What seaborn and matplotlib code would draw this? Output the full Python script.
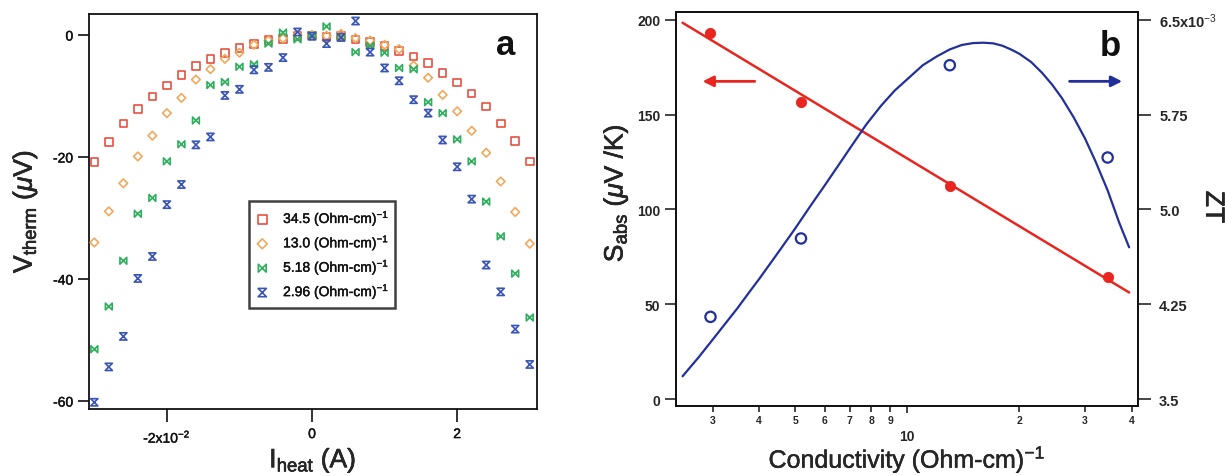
import numpy as np
import pandas as pd
import matplotlib
matplotlib.use("Agg")
import matplotlib.pyplot as plt
import matplotlib.patheffects as pe
from matplotlib.path import Path
from matplotlib.ticker import FixedLocator, FixedFormatter
import seaborn as sns

# ---------------- data: panel a (thermovoltage vs heater current) ----------------
heater_current = [-0.030, -0.028, -0.026, -0.024, -0.022, -0.020, -0.018, -0.016,
                  -0.014, -0.012, -0.010, -0.008, -0.006, -0.004, -0.002, 0.000,
                  0.002, 0.004, 0.006, 0.008, 0.010, 0.012, 0.014, 0.016,
                  0.018, 0.020, 0.022, 0.024, 0.026, 0.028, 0.030]

v_34_5 = [-20.8, -17.5, -14.5, -12.1, -10.1, -8.25, -6.5, -5.1, -3.9, -2.9, -2.1,
          -1.5, -0.8, -0.65, -0.2, -0.1, -0.3, -0.2, -0.7, -1.1, -1.8, -2.6,
          -3.5, -4.6, -6.2, -7.8, -9.6, -11.7, -14.5, -17.4, -20.7]
v_13_0 = [-34.0, -28.9, -24.3, -19.9, -16.5, -12.8, -10.3, -7.3, -5.6, -3.9, -2.9,
          -1.6, -0.9, -0.55, 0.0, 0.0, -0.1, 0.2, -0.5, -0.9, -1.6, -2.3,
          -5.0, -7.0, -9.8, -12.5, -15.7, -19.3, -24.0, -29.0, -34.2]
v_5_18 = [-51.5, -44.5, -37.0, -29.3, -26.7, -20.7, -17.9, -14.0, -8.2, -7.7, -5.2,
          -4.8, -1.4, 0.4, -0.7, 0.0, 1.4, -0.3, -2.8, -1.8, -2.9, -5.4,
          -5.6, -11.0, -12.8, -17.1, -20.7, -27.3, -33.0, -39.1, -46.3]
v_2_96 = [-60.2, -54.4, -49.4, -39.9, -36.3, -27.8, -24.5, -18.0, -16.7, -9.9, -8.9,
          -5.7, -5.3, -3.7, 0.5, -0.2, -1.4, -0.4, 2.3, -2.8, -5.4, -7.5,
          -10.6, -12.8, -17.2, -21.6, -26.9, -37.7, -42.1, -48.2, -54.0]

series_labels = ["34.5 (Ohm-cm)$^{-1}$", "13.0 (Ohm-cm)$^{-1}$",
                 "5.18 (Ohm-cm)$^{-1}$", "2.96 (Ohm-cm)$^{-1}$"]

# ---------------- data: panel b (Seebeck coefficient and ZT vs conductivity) ----------------
conductivity = [2.96, 5.18, 13.0, 34.5]
seebeck = [193.0, 156.5, 112.3, 64.6]
zt = [4.15e-3, 4.77e-3, 6.14e-3, 5.41e-3]

seebeck_fit_cond = [2.49, 39.4]
seebeck_fit = [198.4, 56.2]

zt_fit_cond = [2.49, 2.75, 3.0, 3.25, 3.5, 3.75, 4.0, 4.5, 5.0, 5.5, 6.0, 6.5, 7.0,
               7.75, 8.5, 9.25, 10, 11, 12, 13, 14, 15, 16, 17, 18, 19, 20, 21.5,
               23, 24.5, 26, 28, 30, 32, 34.5, 37, 39.4]
zt_fit = [3.68e-3, 3.83e-3, 3.97e-3, 4.10e-3, 4.22e-3, 4.34e-3, 4.45e-3, 4.66e-3,
          4.85e-3, 5.03e-3, 5.19e-3, 5.34e-3, 5.48e-3, 5.67e-3, 5.82e-3, 5.94e-3,
          6.03e-3, 6.14e-3, 6.21e-3, 6.265e-3, 6.30e-3, 6.315e-3, 6.318e-3,
          6.313e-3, 6.294e-3, 6.264e-3, 6.23e-3, 6.165e-3, 6.08e-3, 5.985e-3,
          5.88e-3, 5.725e-3, 5.56e-3, 5.38e-3, 5.15e-3, 4.90e-3, 4.70e-3]

# ---------------- style ----------------
sns.set_theme(style="ticks")
plt.rcParams["font.family"] = ["Liberation Sans", "DejaVu Sans"]
plt.rcParams["mathtext.fontset"] = "custom"
plt.rcParams["mathtext.rm"] = "Liberation Sans"
plt.rcParams["mathtext.it"] = "Liberation Sans:italic"
plt.rcParams["mathtext.bf"] = "Liberation Sans:bold"
plt.rcParams["axes.linewidth"] = 1.3
plt.rcParams["text.color"] = "#111111"

INK = "#111111"
heavy = [pe.withStroke(linewidth=0.45, foreground=INK)]
light = [pe.withStroke(linewidth=0.3, foreground=INK)]

W, H = 1225, 477
fig = plt.figure(figsize=(W / 100, H / 100), dpi=100)
fig.patch.set_facecolor("white")


def axes_px(left, top, right, bottom):
    return fig.add_axes([left / W, 1 - bottom / H, (right - left) / W, (bottom - top) / H])


# custom open markers
square = Path([(-1, -1), (1, -1), (1, 1), (-1, 1), (-1, -1)],
              [Path.MOVETO, Path.LINETO, Path.LINETO, Path.LINETO, Path.CLOSEPOLY])
diamond = Path([(0, -1), (1, 0), (0, 1), (-1, 0), (0, -1)],
               [Path.MOVETO, Path.LINETO, Path.LINETO, Path.LINETO, Path.CLOSEPOLY])
bowtie = Path([(-1, -1), (-1, 1), (1, -1), (1, 1), (-1, -1)],
              [Path.MOVETO, Path.LINETO, Path.LINETO, Path.LINETO, Path.CLOSEPOLY])
hourglass = Path([(-1, 1), (1, 1), (-1, -1), (1, -1), (-1, 1)],
                 [Path.MOVETO, Path.LINETO, Path.LINETO, Path.LINETO, Path.CLOSEPOLY])

# ---------------- panel a ----------------
ax_a = axes_px(88.5, 15, 537, 410)
styles_a = [(v_34_5, square, "#e8503f", 30),
            (v_13_0, diamond, "#f0a95c", 38),
            (v_5_18, bowtie, "#2fae5e", 24),
            (v_2_96, hourglass, "#3a55b4", 27)]
for label, (vals, mk, col, size) in zip(series_labels, styles_a):
    sns.scatterplot(x=heater_current, y=vals, ax=ax_a, marker=mk, s=size,
                    facecolor="none", edgecolor=col, linewidth=1.2, label=label,
                    zorder=3)

ax_a.set_xlim(-0.0308, 0.0310)
ax_a.set_ylim(-61.3, 3.45)
ax_a.set_xticks([-0.02, 0.0, 0.02])
ax_a.set_xticklabels(["-2x10$^{-2}$", "0", "2"])
ax_a.set_yticks([0, -20, -40, -60])
ax_a.set_yticklabels(["0", "-20", "-40", "-60"])
ax_a.tick_params(axis="y", direction="out", length=8, width=1.2, pad=3, labelsize=10,
                 colors=INK)
ax_a.tick_params(axis="x", direction="out", length=9, width=1.2, pad=4, labelsize=10,
                 colors=INK)
for lab in ax_a.get_xticklabels() + ax_a.get_yticklabels():
    lab.set_path_effects(light)
for sp in ax_a.spines.values():
    sp.set_visible(True)
    sp.set_linewidth(1.3)
    sp.set_color(INK)

ax_a.set_xlabel(r"I$_{\rm heat}$ (A)", fontsize=19)
ax_a.set_ylabel(r"V$_{\rm therm}$ ($\mu$V)", fontsize=19)
for lbl in (ax_a.xaxis.label, ax_a.yaxis.label):
    lbl.set_va("center")
    lbl.set_path_effects(heavy)
ax_a.xaxis.set_label_coords(0.5, -0.13)
ax_a.yaxis.set_label_coords(-0.142, 0.5)

leg = ax_a.legend(loc="upper left", bbox_to_anchor=(0.358, 0.526), frameon=True,
                  fancybox=False, edgecolor=INK, fontsize=10,
                  handlelength=1.0, handletextpad=1.0, borderpad=0.45,
                  labelspacing=0.2, borderaxespad=0.0, markerscale=1.15)
leg.get_frame().set_linewidth(1.8)
for t in leg.get_texts():
    t.set_path_effects(light)

ax_a.text(0.929, 0.924, "a", transform=ax_a.transAxes, fontsize=25,
          fontweight="bold", ha="center", va="center")

# ---------------- panel b ----------------
ax_b = axes_px(675.7, 13.3, 1138.3, 406.7)
ax_b.set_xscale("log")
red_b = "#e8261f"
blue_b = "#22309a"

sns.lineplot(x=seebeck_fit_cond, y=seebeck_fit, ax=ax_b, color=red_b, linewidth=1.8,
             estimator=None, sort=False)
sns.scatterplot(x=conductivity, y=seebeck, ax=ax_b, color=red_b, edgecolor=red_b,
                s=55, zorder=4)

ax_b.set_xlim(2.387, 41.7)
ax_b.set_ylim(-3.5, 203.9)

ax_zt = ax_b.twinx()
sns.lineplot(x=zt_fit_cond, y=zt_fit, ax=ax_zt, color=blue_b, linewidth=1.6,
             estimator=None, sort=False)
sns.scatterplot(x=conductivity, y=zt, ax=ax_zt, marker="o", s=55,
                facecolor="none", edgecolor=blue_b, linewidth=1.6, zorder=4)
ax_zt.set_ylim(3.5e-3 - 3.5 * 0.015e-3, 3.5e-3 + 203.9 * 0.015e-3)
ax_b.set_xlim(2.387, 41.7)

# axes ticks
ax_b.set_yticks([0, 50, 100, 150, 200])
ax_b.set_yticklabels(["0", "50", "100", "150", "200"])
ax_b.tick_params(axis="y", direction="out", length=8, width=1.2, pad=3, labelsize=10)
ax_zt.set_yticks([3.5e-3, 4.25e-3, 5.0e-3, 5.75e-3, 6.5e-3])
ax_zt.set_yticklabels(["3.5", "4.25", "5.0", "5.75", "6.5x10$^{-3}$"])
ax_zt.tick_params(axis="y", direction="out", length=9, width=1.2, pad=6, labelsize=10.5)

ax_b.xaxis.set_major_locator(FixedLocator([10]))
ax_b.xaxis.set_major_formatter(FixedFormatter(["10"]))
ax_b.xaxis.set_minor_locator(FixedLocator([3, 4, 5, 6, 7, 8, 9, 20, 30, 40]))
ax_b.xaxis.set_minor_formatter(FixedFormatter(["3", "4", "5", "6", "7", "8", "9",
                                               "2", "3", "4"]))
ax_b.tick_params(axis="x", which="minor", direction="out", length=4, width=1.2,
                 pad=3, labelsize=7.5)
ax_b.tick_params(axis="x", which="major", direction="out", length=5, width=1.2,
                 pad=12, labelsize=10)
ax_zt.tick_params(axis="x", which="both", bottom=False, top=False)

for lab in (ax_b.get_xticklabels(which="both") + ax_b.get_yticklabels()
            + ax_zt.get_yticklabels()):
    lab.set_fontweight("bold")

for ax in (ax_b, ax_zt):
    for sp in ax.spines.values():
        sp.set_visible(True)
        sp.set_linewidth(1.3)
        sp.set_color(INK)

ax_b.set_xlabel("Conductivity (Ohm-cm)$^{-1}$", fontsize=18)
ax_b.set_ylabel(r"S$_{\rm abs}$ ($\mu$V /K)", fontsize=19)
ax_zt.set_ylabel("ZT", fontsize=19, rotation=270)
for lbl in (ax_b.yaxis.label, ax_zt.yaxis.label):
    lbl.set_va("center")
    lbl.set_path_effects(heavy)
ax_b.xaxis.label.set_va("center")
ax_b.xaxis.label.set_path_effects(light)
ax_b.xaxis.set_label_coords(0.5, -0.136)
ax_b.yaxis.set_label_coords(-0.13, 0.54)
ax_zt.yaxis.set_label_coords(1.162, 0.505)

# direction arrows telling which axis each curve belongs to
ax_b.annotate("", xy=(2.77, 167.5), xytext=(3.96, 167.5),
              arrowprops=dict(arrowstyle="-|>", color=red_b, lw=2.0, mutation_scale=16))
ax_b.annotate("", xy=(38.4, 167.5), xytext=(26.8, 167.5),
              arrowprops=dict(arrowstyle="-|>", color=blue_b, lw=2.0, mutation_scale=16))

ax_b.text(0.939, 0.915, "b", transform=ax_b.transAxes, fontsize=25,
          fontweight="bold", ha="center", va="center")

fig.savefig("out.png", dpi=100, facecolor="white")
